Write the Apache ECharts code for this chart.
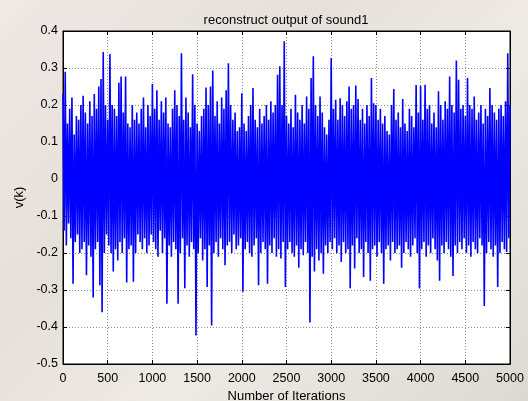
<!DOCTYPE html>
<html>
<head>
<meta charset="utf-8">
<script src="https://cdn.jsdelivr.net/npm/echarts@6/dist/echarts.min.js"></script>
<style>
html,body{margin:0;padding:0;}
#c{width:528px;height:401px;background:linear-gradient(135deg,#efe8e5 0%,#e6e0da 35%,#eeeae4 60%,#dcd8d2 100%);}
</style>
</head>
<body>
<div id="c"></div>
<script>
// Upper envelope samples (every 25 iterations, 0..5000)
const highs = [
0.23,0.29,0.15,0.19,0.22,0.12,0.17,0.16,0.2,0.225,
0.18,0.15,0.21,0.17,0.23,0.19,0.25,0.27,0.343,0.2,
0.16,0.338,0.2,0.19,0.17,0.26,0.277,0.18,0.277,0.15,
0.14,0.2,0.16,0.18,0.15,0.19,0.22,0.14,0.2,0.17,
0.257,0.19,0.24,0.16,0.21,0.18,0.22,0.15,0.14,0.19,
0.24,0.2,0.17,0.34,0.16,0.22,0.18,0.14,0.283,0.2,
0.15,0.13,0.17,0.19,0.247,0.2,0.25,0.293,0.17,0.21,
0.15,0.22,0.19,0.24,0.313,0.2,0.16,0.18,0.13,0.14,
0.232,0.15,0.13,0.17,0.2,0.246,0.16,0.14,0.19,0.15,
0.17,0.2,0.16,0.21,0.18,0.2,0.282,0.305,0.2,0.372,
0.17,0.15,0.19,0.14,0.228,0.18,0.16,0.2,0.15,0.223,
0.19,0.273,0.332,0.2,0.17,0.223,0.18,0.14,0.12,0.16,
0.327,0.19,0.214,0.16,0.218,0.2,0.17,0.21,0.25,0.19,
0.2,0.253,0.216,0.16,0.19,0.15,0.2,0.17,0.273,0.205,
0.2,0.16,0.19,0.15,0.17,0.13,0.12,0.2,0.243,0.16,
0.18,0.14,0.216,0.15,0.13,0.19,0.17,0.14,0.254,0.18,
0.252,0.16,0.255,0.19,0.2,0.15,0.18,0.14,0.237,0.2,
0.16,0.21,0.19,0.277,0.2,0.18,0.32,0.268,0.19,0.2,
0.17,0.273,0.2,0.19,0.223,0.16,0.18,0.2,0.15,0.19,
0.17,0.246,0.2,0.18,0.16,0.19,0.2,0.17,0.21,0.34,
0.2
];
// Lower envelope samples (every 25 iterations, offset 12.5)
const lows = [
-0.14,-0.18,-0.12,-0.16,-0.283,-0.17,-0.15,-0.2,-0.19,-0.17,
-0.26,-0.18,-0.21,-0.32,-0.19,-0.17,-0.287,-0.36,-0.2,-0.15,
-0.18,-0.2,-0.25,-0.19,-0.22,-0.17,-0.2,-0.16,-0.28,-0.19,
-0.18,-0.278,-0.2,-0.15,-0.17,-0.19,-0.16,-0.2,-0.18,-0.15,
-0.17,-0.19,-0.21,-0.14,-0.2,-0.16,-0.337,-0.18,-0.21,-0.17,
-0.19,-0.337,-0.2,-0.16,-0.295,-0.18,-0.21,-0.17,-0.19,-0.423,
-0.2,-0.16,-0.22,-0.19,-0.292,-0.18,-0.396,-0.2,-0.17,-0.21,
-0.16,-0.19,-0.233,-0.18,-0.17,-0.2,-0.15,-0.19,-0.18,-0.16,
-0.305,-0.19,-0.17,-0.2,-0.21,-0.18,-0.16,-0.287,-0.2,-0.17,
-0.19,-0.283,-0.18,-0.2,-0.16,-0.21,-0.19,-0.215,-0.17,-0.292,
-0.19,-0.17,-0.2,-0.21,-0.18,-0.24,-0.19,-0.206,-0.17,-0.2,
-0.388,-0.21,-0.25,-0.19,-0.22,-0.2,-0.256,-0.18,-0.2,-0.17,
-0.19,-0.16,-0.2,-0.18,-0.224,-0.17,-0.2,-0.19,-0.295,-0.18,
-0.242,-0.16,-0.2,-0.19,-0.265,-0.17,-0.2,-0.275,-0.19,-0.18,
-0.21,-0.17,-0.2,-0.283,-0.19,-0.18,-0.22,-0.17,-0.2,-0.19,
-0.18,-0.24,-0.2,-0.17,-0.19,-0.21,-0.18,-0.16,-0.2,-0.296,
-0.19,-0.17,-0.21,-0.18,-0.2,-0.16,-0.19,-0.22,-0.275,-0.18,
-0.2,-0.17,-0.19,-0.21,-0.262,-0.18,-0.2,-0.17,-0.19,-0.16,
-0.2,-0.18,-0.21,-0.17,-0.19,-0.2,-0.16,-0.18,-0.343,-0.2,
-0.17,-0.19,-0.21,-0.18,-0.292,-0.2,-0.17,-0.19,-0.197,-0.16
];
const xStep = 25;
const xMin = 0, xMax = 5000, xInterval = 500;
const yMin = -0.5, yMax = 0.4, yInterval = 0.1;
const titleText = 'reconstruct output of sound1';
const xName = 'Number of Iterations';
const yName = 'v(k)';

const data = [];
for (let i = 0; i < highs.length; i++) {
  data.push([i * xStep, highs[i]]);
  if (i < lows.length) data.push([i * xStep + xStep / 2, lows[i]]);
}

const chart = echarts.init(document.getElementById('c'), null, {renderer: 'canvas'});
const font = 'Liberation Sans, Arial, sans-serif';
const gridLine = {show: true, lineStyle: {color: '#8c8c8c', type: [1, 2], width: 1}};
chart.setOption({
  animation: false,
  title: {
    text: titleText, left: 281, top: 9, textAlign: 'center',
    textStyle: {fontFamily: font, fontSize: 13, fontWeight: 'normal', color: '#000'}
  },
  grid: {left: 63, right: 18, top: 31, bottom: 37, outerBoundsMode: 'none', containLabel: false,
    show: true, backgroundColor: '#fff', borderColor: '#000', borderWidth: 1},
  xAxis: [{
    type: 'value', min: xMin, max: xMax, interval: xInterval,
    name: xName, nameLocation: 'middle', nameGap: 23,
    nameTextStyle: {fontFamily: font, fontSize: 13, color: '#000'},
    axisLine: {show: true, onZero: false, lineStyle: {color: '#000', width: 1}},
    axisTick: {show: true, inside: true, length: 4, lineStyle: {color: '#000'}},
    axisLabel: {fontFamily: font, fontSize: 12.5, color: '#000', margin: 8, formatter: v => String(v)},
    splitLine: gridLine
  }, {
    type: 'value', position: 'top', min: xMin, max: xMax, interval: xInterval,
    axisLine: {show: true, onZero: false, lineStyle: {color: '#000'}},
    axisTick: {show: true, inside: true, length: 4, lineStyle: {color: '#000'}},
    axisLabel: {show: false}, splitLine: {show: false}
  }],
  yAxis: [{
    type: 'value', min: yMin, max: yMax, interval: yInterval,
    name: yName, nameLocation: 'middle', nameGap: 33, nameRotate: 90,
    nameTextStyle: {fontFamily: font, fontSize: 13, color: '#000'},
    axisLine: {show: true, onZero: false, lineStyle: {color: '#000', width: 1}},
    axisTick: {show: true, inside: true, length: 4, lineStyle: {color: '#000'}},
    axisLabel: {fontFamily: font, fontSize: 12.5, color: '#000', margin: 5},
    splitLine: gridLine
  }, {
    type: 'value', position: 'right', min: yMin, max: yMax, interval: yInterval,
    axisLine: {show: true, onZero: false, lineStyle: {color: '#000'}},
    axisTick: {show: true, inside: true, length: 4, lineStyle: {color: '#000'}},
    axisLabel: {show: false}, splitLine: {show: false}
  }],
  series: [{
    type: 'line', data: data, showSymbol: false, symbol: 'none',
    lineStyle: {color: '#0000ff', width: 1.6, join: 'bevel'}, itemStyle: {color: '#0000ff'},
    silent: true
  }]
});
</script>
</body>
</html>
